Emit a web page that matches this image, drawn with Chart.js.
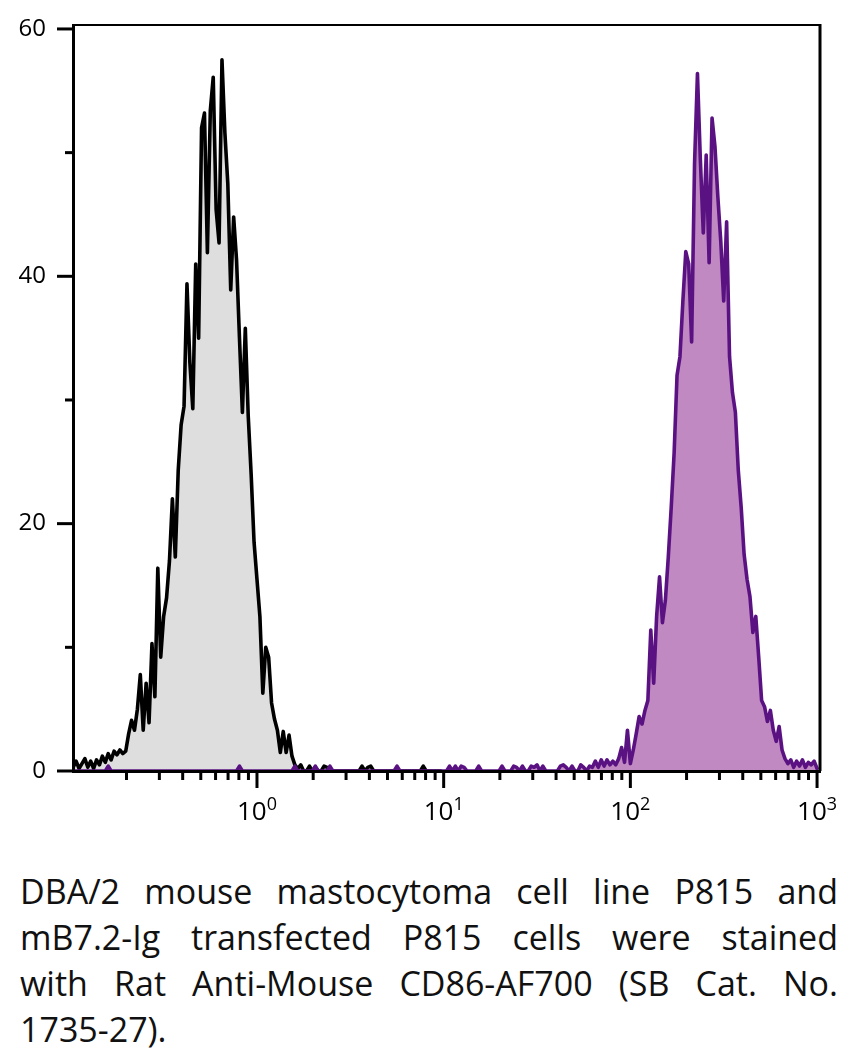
<!DOCTYPE html>
<html>
<head>
<meta charset="utf-8">
<script src="https://cdn.jsdelivr.net/npm/chart.js@4.4.1/dist/chart.umd.min.js"></script>
<style>
  html, body { margin: 0; padding: 0; background: #fff; }
  #wrap { position: relative; width: 849px; height: 1058px; overflow: hidden; }
  #chartBox { position: absolute; left: 0; top: 0; width: 849px; height: 850px; }
  #caption {
    position: absolute; left: 20px; top: 868px; width: 818px;
    font-family: "Open Sans", "DejaVu Sans", sans-serif; font-size: 34px;
    line-height: 46px; color: #111;
  }
  #caption div { text-align: justify; text-align-last: justify; white-space: nowrap; }
  #caption div.last { text-align-last: left; }
</style>
</head>
<body>
<div id="wrap">
  <div id="chartBox"><canvas id="histo" width="849" height="850"></canvas></div>
  <div id="caption">
    <div>DBA/2 mouse mastocytoma cell line P815 and</div>
    <div>mB7.2-Ig transfected P815 cells were stained</div>
    <div>with Rat Anti-Mouse CD86-AF700 (SB Cat. No.</div>
    <div class="last">1735-27).</div>
  </div>
</div>
<script>
// Histogram bins: 64 channels per decade, first channel centred at 10^-1
const binsPerDecade = 64;
const firstBinLog = -1;

// P815 parent line (grey), channels 0..127
const p815Counts = [
  0, 0.3, 0.8, 0.2, 0.6, 1.0, 0.3, 0.8, 0.2, 0.9, 0.5, 1.2, 0.7, 1.4, 0.9, 1.6,
  1.3, 1.7, 1.4, 1.6, 3.0, 4.1, 3.3, 5.0, 7.8, 3.3, 7.1, 3.9, 10.3, 6.0, 16.4, 9.2,
  12.5, 14.0, 17.0, 22.0, 17.3, 24.3, 28.0, 29.5, 39.4, 33.0, 29.3, 41.0, 35.0, 52.0, 53.2, 41.9,
  53.4, 56.1, 45.4, 42.7, 57.5, 51.6, 47.5, 38.9, 44.8, 41.3, 35.0, 29.0, 35.8, 28.7, 24.0, 18.5,
  15.5, 12.5, 6.3, 10.0, 9.2, 5.5, 4.2, 3.3, 1.5, 3.2, 1.5, 2.9, 1.2, 0.5, 0.2, 0.5,
  0, 0, 0.4, 0, 0.3, 0, 0, 0.4, 0.3, 0, 0, 0, 0, 0, 0, 0,
  0, 0, 0, 0, 0.4, 0, 0.3, 0.4, 0, 0, 0, 0, 0, 0, 0, 0,
  0, 0, 0, 0, 0, 0, 0, 0, 0, 0.4, 0, 0, 0, 0, 0, 0
];

// mB7.2-Ig transfected P815 (purple), channels 0..256
const transfectedCounts = [
  0, 0, 0, 0, 0, 0, 0, 0, 0, 0, 0, 0, 0, 0.4, 0, 0,
  0, 0, 0, 0, 0, 0, 0, 0, 0, 0, 0, 0, 0, 0, 0, 0,
  0, 0, 0, 0, 0, 0, 0, 0, 0, 0, 0, 0, 0, 0, 0, 0,
  0, 0, 0, 0, 0, 0, 0, 0, 0, 0, 0.4, 0, 0, 0, 0, 0,
  0, 0, 0, 0, 0, 0, 0, 0, 0, 0, 0, 0, 0, 0.4, 0, 0,
  0, 0, 0, 0, 0.4, 0, 0, 0, 0, 0.4, 0, 0, 0, 0, 0, 0,
  0, 0, 0, 0, 0, 0, 0, 0, 0, 0, 0, 0, 0, 0, 0, 0,
  0.4, 0, 0, 0, 0, 0, 0, 0, 0, 0, 0, 0, 0, 0, 0, 0,
  0, 0, 0.4, 0, 0.4, 0, 0.4, 0.3, 0, 0, 0, 0, 0.4, 0, 0, 0,
  0, 0, 0, 0, 0.4, 0, 0, 0, 0.4, 0.3, 0, 0.4, 0, 0, 0.4, 0.3,
  0.5, 0, 0.4, 0, 0, 0, 0, 0, 0.4, 0.5, 0.3, 0, 0.4, 0, 0, 0.5,
  0.3, 0, 0.4, 0.3, 0.8, 0.3, 0.9, 0.4, 0.9, 0.5, 0.8, 0.5, 1.0, 1.9, 0.7, 3.3,
  0.6, 1.7, 3.0, 4.4, 3.8, 4.9, 5.7, 11.4, 7.1, 12.5, 15.7, 12.0, 13.8, 17.3, 21.3, 25.7,
  32.0, 33.5, 38.0, 42.0, 41.0, 34.7, 49.1, 56.4, 49.4, 43.5, 49.8, 41.1, 52.8, 50.5, 46.4, 42.8,
  38.0, 44.4, 33.5, 30.6, 29.0, 24.3, 21.3, 17.5, 15.5, 14.1, 11.2, 12.5, 9.2, 5.7, 5.2, 4.0,
  4.9, 3.3, 2.4, 3.6, 1.7, 1.0, 0.6, 0.9, 0.3, 0.8, 0.4, 0.9, 0.3, 0.7, 0.5, 0.8,
  0.2
];

// axis ticks
const xMin = 0.1034;
const xMax = 1037;
const xDecades = [1, 10, 100, 1000];
const xDecadeExponents = ['0', '1', '2', '3'];
const xMinorTicks = [
  0.2, 0.3, 0.4, 0.5, 0.6, 0.7, 0.8, 0.9,
  2, 3, 4, 5, 6, 7, 8, 9,
  20, 30, 40, 50, 60, 70, 80, 90,
  200, 300, 400, 500, 600, 700, 800, 900
];
const yMax = 60.32;
const yMajorTicks = [0, 20, 40, 60];
const yMinorTicks = [10, 30, 50];

const toPoints = (counts) =>
  counts.map((v, i) => ({ x: Math.pow(10, firstBinLog + i / binsPerDecade), y: v }));

// Frame, tick marks and the 10^n labels
const axisMarks = {
  id: 'axisMarks',
  afterDraw(chart) {
    const { ctx, chartArea, scales: { x, y } } = chart;
    ctx.save();
    ctx.strokeStyle = '#000';
    ctx.lineCap = 'butt';

    // top and right edges of the box
    ctx.lineWidth = 2;
    ctx.beginPath();
    ctx.moveTo(chartArea.left, chartArea.top);
    ctx.lineTo(chartArea.right, chartArea.top);
    ctx.stroke();
    ctx.lineWidth = 3;
    ctx.beginPath();
    ctx.moveTo(chartArea.right, chartArea.top - 1);
    ctx.lineTo(chartArea.right, chartArea.bottom);
    ctx.stroke();

    ctx.lineWidth = 3;
    yMajorTicks.forEach((v) => {
      const py = y.getPixelForValue(v);
      ctx.beginPath();
      ctx.moveTo(chartArea.left - 16, py);
      ctx.lineTo(chartArea.left, py);
      ctx.stroke();
    });
    yMinorTicks.forEach((v) => {
      const py = y.getPixelForValue(v);
      ctx.beginPath();
      ctx.moveTo(chartArea.left - 8, py);
      ctx.lineTo(chartArea.left, py);
      ctx.stroke();
    });
    xDecades.forEach((v) => {
      const px = x.getPixelForValue(v);
      ctx.beginPath();
      ctx.moveTo(px, chartArea.bottom);
      ctx.lineTo(px, chartArea.bottom + 17);
      ctx.stroke();
    });
    xMinorTicks.forEach((v) => {
      const px = x.getPixelForValue(v);
      ctx.beginPath();
      ctx.moveTo(px, chartArea.bottom);
      ctx.lineTo(px, chartArea.bottom + 9);
      ctx.stroke();
    });

    // decade labels with raised exponent
    ctx.fillStyle = '#000';
    ctx.textBaseline = 'alphabetic';
    ctx.textAlign = 'left';
    const baseFont = '26px "Open Sans", "DejaVu Sans", sans-serif';
    const expFont = '18px "Open Sans", "DejaVu Sans", sans-serif';
    xDecades.forEach((v, i) => {
      const px = x.getPixelForValue(v);
      ctx.font = baseFont;
      const w1 = ctx.measureText('10').width;
      ctx.font = expFont;
      const w2 = ctx.measureText(xDecadeExponents[i]).width;
      const start = px - (w1 + w2) / 2;
      ctx.font = baseFont;
      ctx.fillText('10', start, chartArea.bottom + 49);
      ctx.font = expFont;
      ctx.fillText(xDecadeExponents[i], start + w1, chartArea.bottom + 39);
    });
    ctx.restore();
  }
};

const ctx = document.getElementById('histo').getContext('2d');
new Chart(ctx, {
  type: 'line',
  data: {
    datasets: [
      {
        label: 'mB7.2-Ig transfected P815',
        data: toPoints(transfectedCounts),
        borderColor: '#5a1283',
        backgroundColor: '#c089c1',
        borderWidth: 3.6,
        borderJoinStyle: 'round',
        borderCapStyle: 'round',
        fill: 'origin',
        pointRadius: 0,
        tension: 0,
      },
      {
        label: 'P815',
        data: toPoints(p815Counts),
        borderColor: '#000000',
        backgroundColor: '#dedede',
        borderWidth: 3.6,
        borderJoinStyle: 'round',
        borderCapStyle: 'round',
        fill: 'origin',
        pointRadius: 0,
        tension: 0,
      },
    ],
  },
  options: {
    responsive: false,
    animation: false,
    events: [],
    layout: { padding: { top: 25, right: 29, left: 0, bottom: 0 } },
    plugins: {
      legend: { display: false },
      tooltip: { enabled: false },
    },
    scales: {
      x: {
        type: 'logarithmic',
        min: xMin,
        max: xMax,
        position: 'bottom',
        grid: { display: false, drawTicks: false },
        border: { display: true, color: '#000', width: 3, z: 1 },
        ticks: { display: false },
        afterFit(scale) { scale.height = 79; },
      },
      y: {
        type: 'linear',
        min: 0,
        max: yMax,
        position: 'left',
        // tick marks themselves are drawn by axisMarks; tickLength only offsets the labels
        grid: { display: false, drawTicks: true, tickLength: 27 },
        border: { display: true, color: '#000', width: 3, z: 1 },
        afterBuildTicks(scale) {
          scale.ticks = yMajorTicks.map((v) => ({ value: v }));
        },
        ticks: {
          padding: 0,
          color: '#000',
          font: { family: '"Open Sans", "DejaVu Sans", sans-serif', size: 24 },
          callback: (v) => String(v),
        },
        afterFit(scale) { scale.width = 73; },
      },
    },
  },
  plugins: [axisMarks],
});
</script>
</body>
</html>
